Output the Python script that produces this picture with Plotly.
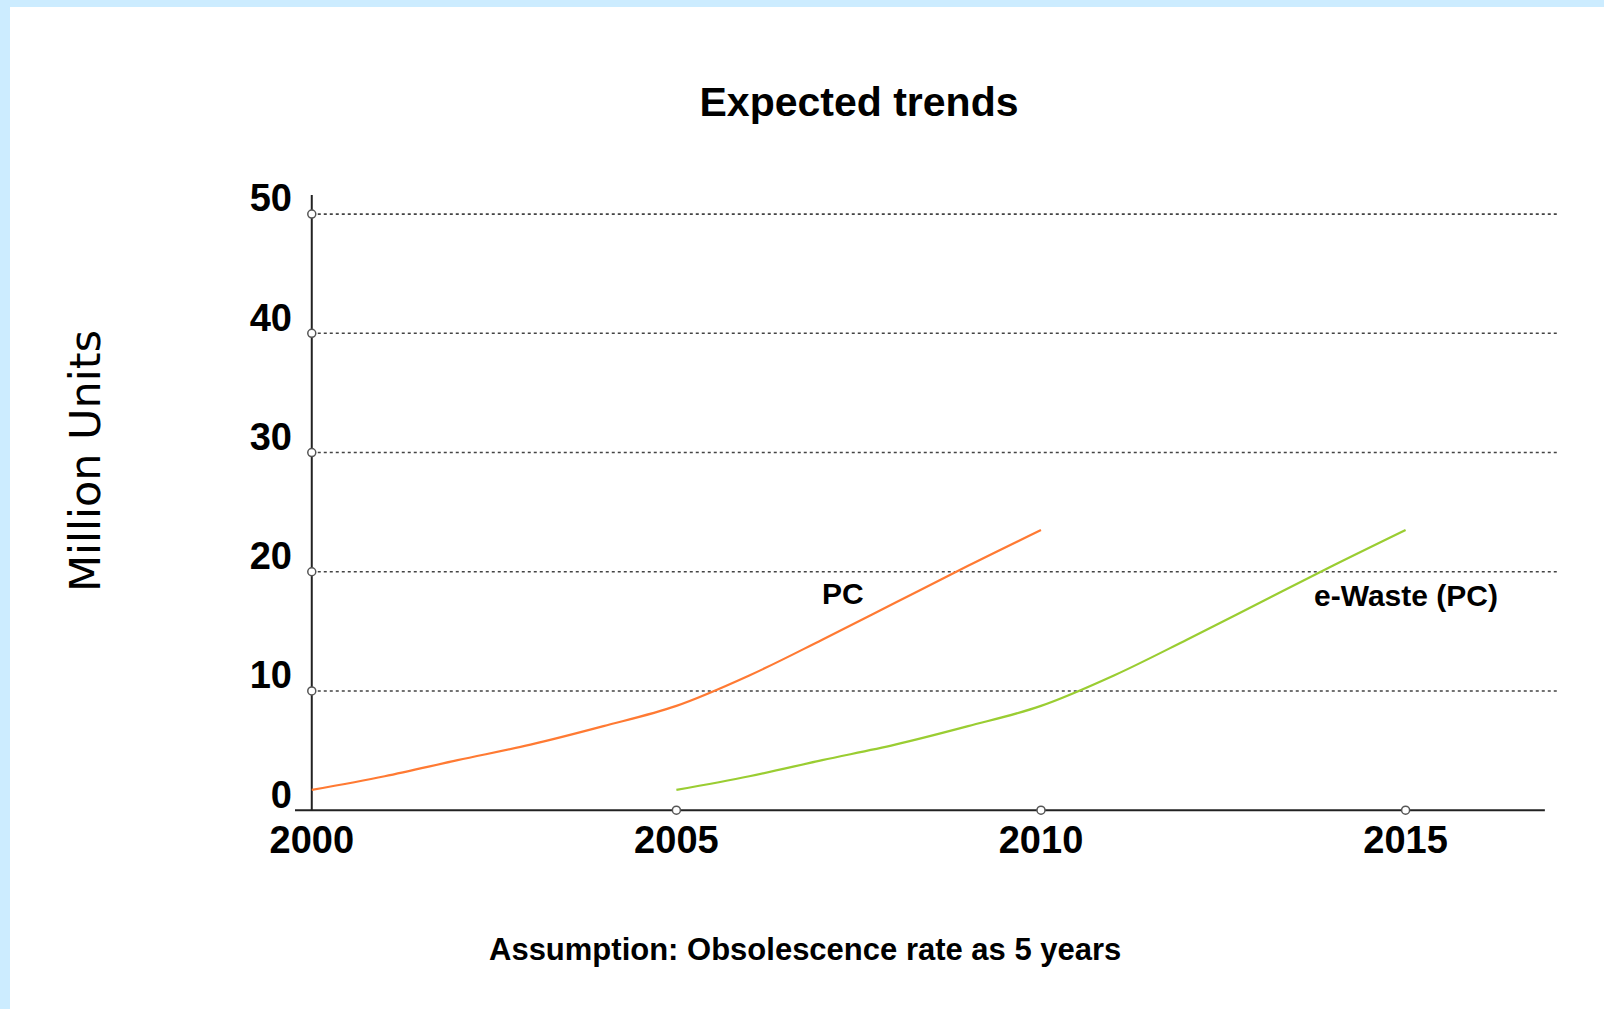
import plotly.graph_objects as go

# ---- data -----------------------------------------------------------------
pc_years = [2000, 2001, 2002, 2003, 2004, 2005, 2006, 2007, 2008, 2009, 2010]
pc_units = [1.7, 2.85, 4.2, 5.5, 7.05, 8.75, 11.3, 14.3, 17.4, 20.5, 23.5]

ewaste_years = [2005, 2006, 2007, 2008, 2009, 2010, 2011, 2012, 2013, 2014, 2015]
ewaste_units = [1.7, 2.85, 4.2, 5.5, 7.05, 8.75, 11.3, 14.3, 17.4, 20.5, 23.5]

x_ticks = [2000, 2005, 2010, 2015]
y_ticks = [0, 10, 20, 30, 40, 50]

# ---- layout constants -------------------------------------------------------
W, H = 1604, 1009
ML, MR, MT, MB = 295, 46, 195, 197
PW, PH = W - ML - MR, H - MT - MB
X_RANGE = [1999.77, 2017.09]
Y_RANGE = [-0.15, 51.6]
X_AXIS_END = 2016.91

BOLD_FONT = "Liberation Sans Narrow, Liberation Sans, Arial, sans-serif"
PC_COLOR = "#FF7A33"
EW_COLOR = "#9ACD32"
AXIS_COLOR = "#222222"

fig = go.Figure()

fig.add_trace(go.Scatter(
    x=pc_years, y=pc_units, mode="lines", name="PC",
    line=dict(color=PC_COLOR, width=2.2, shape="spline"),
))
fig.add_trace(go.Scatter(
    x=ewaste_years, y=ewaste_units, mode="lines", name="e-Waste (PC)",
    line=dict(color=EW_COLOR, width=2.2, shape="spline"),
))

# little open circles where the ticks meet the axes
tick_x = [x_ticks[0]] * (len(y_ticks) - 1) + x_ticks[1:]
tick_y = y_ticks[1:] + [0] * (len(x_ticks) - 1)
fig.add_trace(go.Scatter(
    x=tick_x, y=tick_y, mode="markers", cliponaxis=False, hoverinfo="skip",
    marker=dict(symbol="circle", size=8, color="white",
                line=dict(color="#555555", width=1.5)),
))

shapes = []
# page frame: light blue strip on the left and top
shapes.append(dict(
    type="rect", xref="paper", yref="paper", layer="below",
    x0=(10 - ML) / PW, x1=(W - ML) / PW + 0.01,
    y0=-MB / PH - 0.01, y1=(H - 7 - MB) / PH,
    fillcolor="white", line=dict(width=0),
))
# dotted horizontal grid
for v in y_ticks[1:]:
    shapes.append(dict(
        type="line", xref="x", yref="y", layer="below",
        x0=x_ticks[0], x1=X_RANGE[1], y0=v, y1=v,
        line=dict(color="#444444", width=1.6, dash="dot"),
    ))
# axis lines
shapes.append(dict(
    type="line", xref="x", yref="y", layer="below",
    x0=X_RANGE[0], x1=X_AXIS_END, y0=0, y1=0,
    line=dict(color=AXIS_COLOR, width=2),
))
shapes.append(dict(
    type="line", xref="x", yref="y", layer="below",
    x0=x_ticks[0], x1=x_ticks[0], y0=0, y1=Y_RANGE[1],
    line=dict(color=AXIS_COLOR, width=2),
))

annotations = [
    dict(text="PC", x=2007.28, y=18.2, xref="x", yref="y", showarrow=False,
         font=dict(family=BOLD_FONT, size=30, color="black", weight="bold")),
    dict(text="e-Waste (PC)", x=2015.0, y=18.0, xref="x", yref="y", showarrow=False,
         font=dict(family=BOLD_FONT, size=30, color="black", weight="bold")),
    dict(text="Million Units", textangle=-90, showarrow=False,
         xref="paper", yref="paper",
         x=(85 - ML) / PW, y=(H - MB - 461) / PH,
         xanchor="center", yanchor="middle",
         font=dict(family="DejaVu Sans, Liberation Sans, sans-serif", size=43, color="black")),
    dict(text="Assumption: Obsolescence rate as 5 years", showarrow=False,
         xref="paper", yref="paper",
         x=(805 - ML) / PW, y=(H - MB - 949) / PH,
         xanchor="center", yanchor="middle",
         font=dict(family=BOLD_FONT, size=31, color="black", weight="bold")),
]

fig.update_layout(
    width=W, height=H,
    margin=dict(l=ML, r=MR, t=MT, b=MB, pad=0),
    paper_bgcolor="#CCECFF",
    plot_bgcolor="white",
    showlegend=False,
    title=dict(
        text="Expected trends", xref="container", yref="container",
        x=859 / W, y=1 - 102 / H, xanchor="center", yanchor="middle",
        font=dict(family=BOLD_FONT, size=41, color="black", weight="bold"),
    ),
    xaxis=dict(
        range=X_RANGE, tickvals=x_ticks, ticktext=[str(t) for t in x_ticks],
        showgrid=False, zeroline=False, showline=False, ticks="",
        ticklabelstandoff=2,
        tickfont=dict(family=BOLD_FONT, size=38, color="black", weight="bold"),
    ),
    yaxis=dict(
        range=Y_RANGE, tickvals=y_ticks, ticktext=[str(t) for t in y_ticks],
        showgrid=False, zeroline=False, showline=False, ticks="",
        ticklabelshift=-16, ticklabelstandoff=2,
        tickfont=dict(family=BOLD_FONT, size=38, color="black", weight="bold"),
    ),
    shapes=shapes,
    annotations=annotations,
)

fig.write_html("out.html")
